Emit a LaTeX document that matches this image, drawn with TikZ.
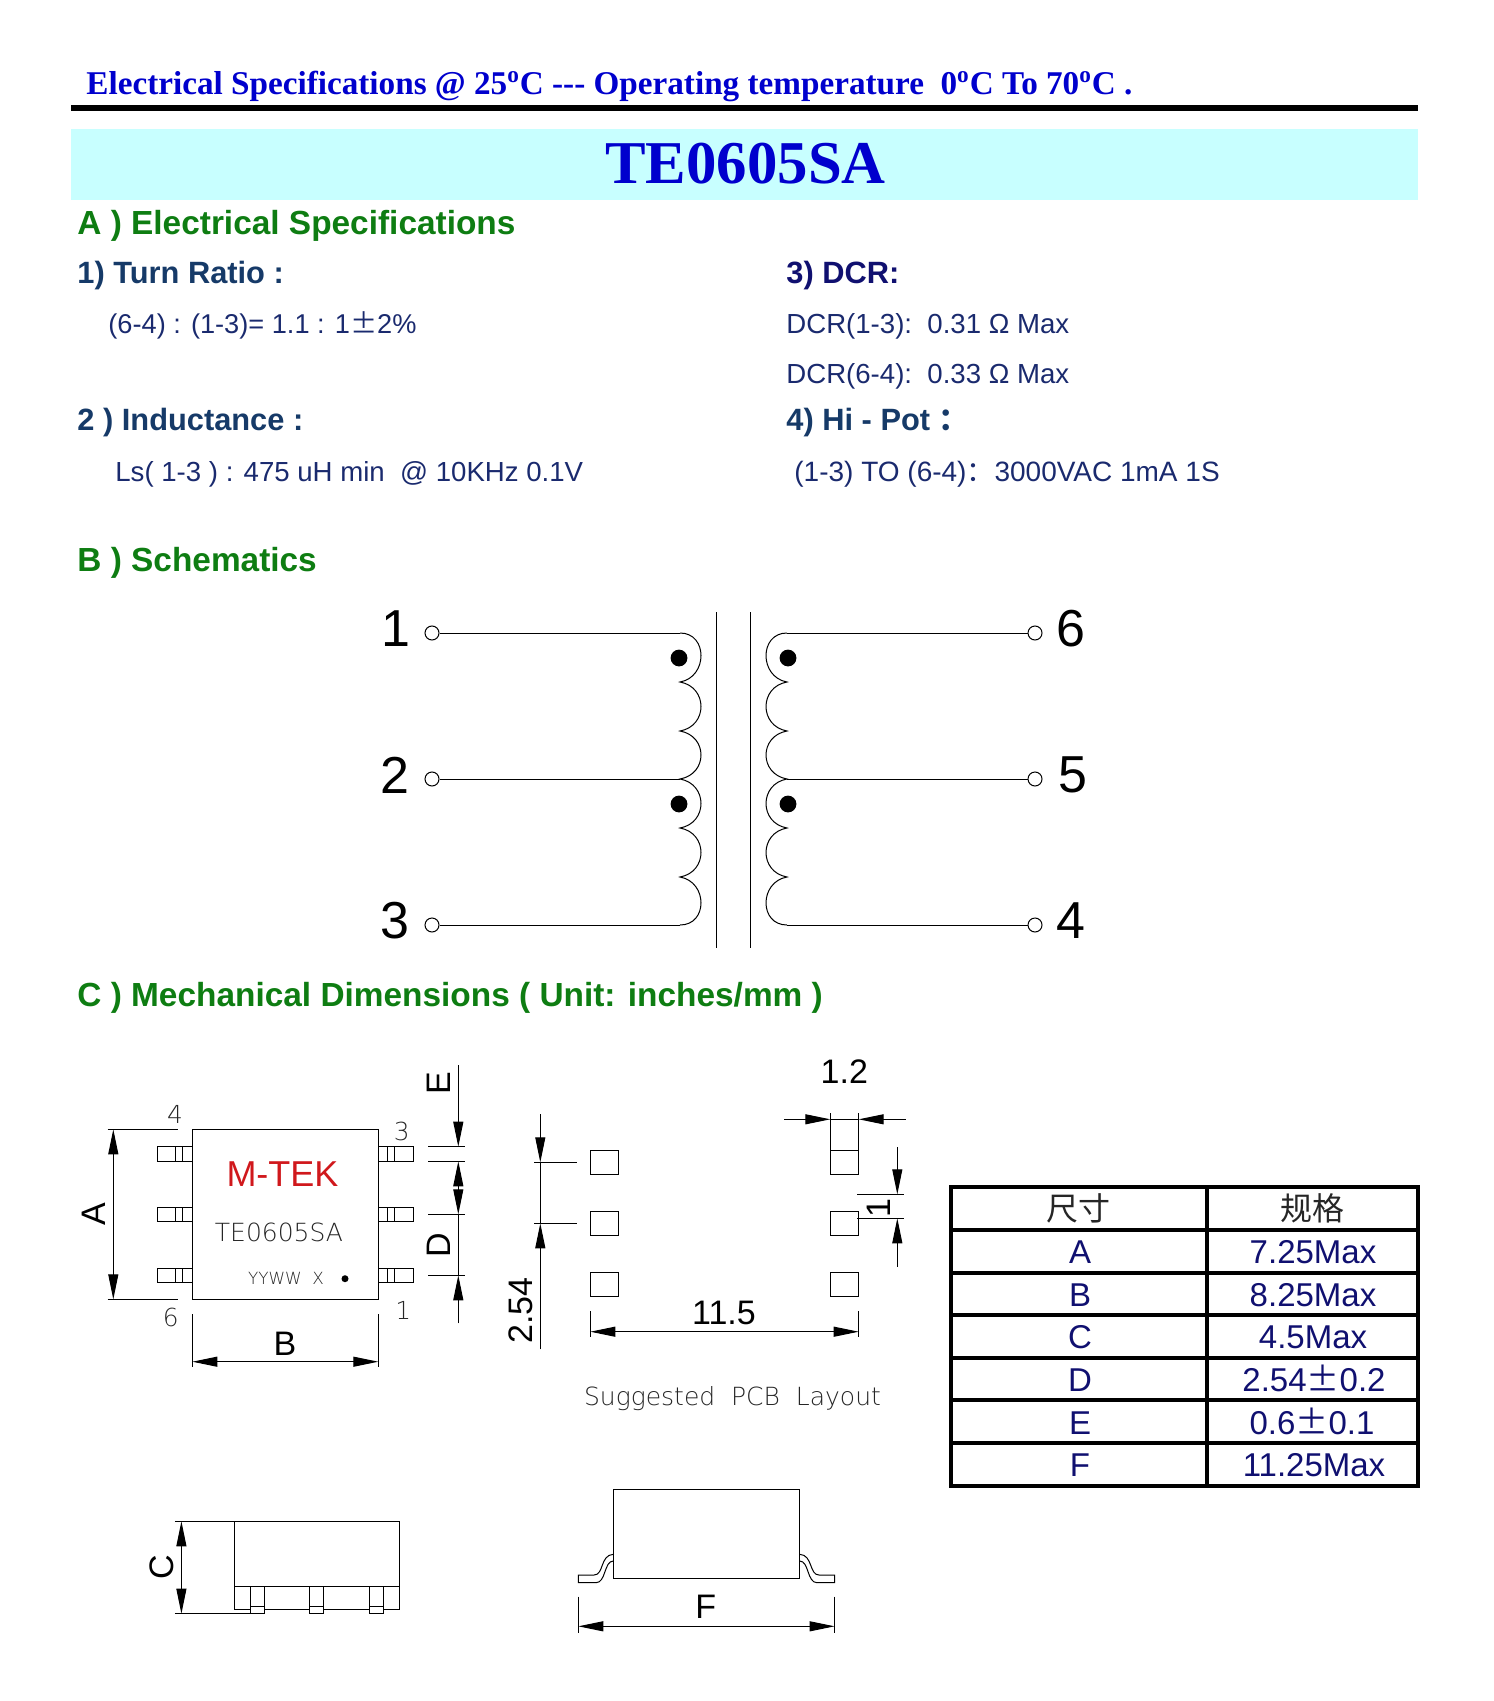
\documentclass[tikz,border=0pt]{standalone}
\usepackage{fontspec}
\setmainfont{Liberation Sans}
\newfontfamily\titlefont{Liberation Serif}
\newfontfamily\cjk{Noto Sans CJK SC}
\newfontfamily\cadfont{DejaVu Sans ExtraLight}
\usetikzlibrary{arrows.meta,positioning}
\definecolor{headblue}{RGB}{0,0,205}
\definecolor{bandcyan}{RGB}{200,255,255}
\definecolor{secgreen}{RGB}{14,125,18}
\definecolor{subnavy}{RGB}{22,58,104}
\definecolor{bodynavy}{RGB}{26,42,110}
\definecolor{cellnavy}{RGB}{16,16,112}
\definecolor{logored}{RGB}{208,24,28}
\tikzset{
	txt/.style={anchor=base west,inner sep=0pt},
	secthead/.style={txt,text=secgreen,font=\bfseries\fontsize{16.7}{19}\selectfont},
	subhead/.style={txt,text=subnavy,font=\bfseries\fontsize{15.4}{18}\selectfont},
	bodytext/.style={txt,text=bodynavy,font=\fontsize{13.8}{16}\selectfont},
	thinline/.style={line width=0.5pt},
	bodyline/.style={line width=0.7pt},
	dimtip/.style={thinline,-{Triangle[length=12.5pt,width=5pt]}},
	dimtiptwo/.style={thinline,{Triangle[length=12.5pt,width=5pt]}-{Triangle[length=12.5pt,width=5pt]}},
	terminal/.style={circle,draw,thinline,fill=white,minimum size=7pt,inner sep=0pt},
	pinnum/.style={inner sep=0pt,font=\fontsize{26}{30}\selectfont},
	dimlabel/.style={inner sep=0pt,font=\fontsize{17}{20}\selectfont},
	cadtext/.style={inner sep=0pt,text=black!85,font=\cadfont\fontsize{12.5}{15}\selectfont},
	cadnum/.style={inner sep=0pt,text=black!85,font=\cadfont\fontsize{12.4}{15}\selectfont},
	cell/.style={inner sep=0pt,text=cellnavy,font=\fontsize{16.5}{19}\selectfont},
	tablerule/.style={line width=1.9pt},
	phasedot/.style={circle,fill=black,minimum size=8.4pt,inner sep=0pt}
}
\begin{document}
\begin{tikzpicture}[x=0.5pt,y=-0.5pt]
	\useasboundingbox (0,0) rectangle (1493,1701);
	% header
	\node (head) at (86,95)[txt,text=headblue,font=\titlefont\bfseries\fontsize{16.6}{19}\selectfont] {Electrical Specifications @ 25\textsuperscript{o}C --- Operating temperature\ \ 0\textsuperscript{o}C To 70\textsuperscript{o}C .};
	\fill (71,105.5) rectangle (1418,111);
	\fill[bandcyan] (71,129) rectangle (1418,200);
	\node (partno) at (745.5,184)[anchor=base,inner sep=0pt,text=headblue,font=\titlefont\bfseries\fontsize{30.4}{36}\selectfont] {TE0605SA};
	% section A
	\node (secta) at (77,235)[secthead] {A ) Electrical Specifications};
	\node (turn) at (77,284)[subhead] {1) Turn Ratio :};
	\node (turnval) at (108,334)[bodytext,font=\fontsize{13.6}{16}\selectfont] {(6-4) : (1-3)= 1.1 : 1{\cjk ±}2\%};
	\node (induct) at (77,430)[subhead] {2 ) Inductance :};
	\node (inductval) at (115,481)[bodytext] {Ls( 1-3 ) : 475 uH min\ \ @ 10KHz 0.1V};
	\node (dcr) at (786,284)[subhead,text=cellnavy] {3) DCR:};
	\node (dcrone) at (786,334)[bodytext] {DCR(1-3):\ \ 0.31 Ω Max};
	\node (dcrtwo) at (786,383)[bodytext] {DCR(6-4):\ \ 0.33 Ω Max};
	\node (hipot) at (786,430)[subhead] {4) Hi - Pot {\cjk ：}};
	\node (hipotval) at (794,481)[bodytext,font=\fontsize{14}{16}\selectfont] {(1-3) TO (6-4){\cjk ：}3000VAC 1mA 1S};
	% section B
	\node (sectb) at (77,571)[secthead] {B ) Schematics};
	\node (tone) at (432,633)[terminal] {};
	\node (ttwo) at (432,779)[terminal] {};
	\node (tthree) at (432,925)[terminal] {};
	\node (tsix) at (1035,633)[terminal] {};
	\node (tfive) at (1035,779)[terminal] {};
	\node (tfour) at (1035,925)[terminal] {};
	\node (lone) at (396,629)[pinnum] {1};
	\node (ltwo) at (395,775)[pinnum] {2};
	\node (lthree) at (395,921)[pinnum] {3};
	\node (lsix) at (1071,629)[pinnum] {6};
	\node (lfive) at (1073,775)[pinnum] {5};
	\node (lfour) at (1071,921)[pinnum] {4};
	\coordinate (pa) at (680,633);
	\coordinate (pb) at (680,779);
	\coordinate (pc) at (680,925);
	\coordinate (sa) at (787,633);
	\coordinate (sb) at (787,779);
	\coordinate (sc) at (787,925);
	\draw[thinline] (tone)--(pa);
	\draw[thinline] (ttwo)--(pb);
	\draw[thinline] (tthree)--(pc);
	\draw[thinline] (tsix)--(sa);
	\draw[thinline] (tfive)--(sb);
	\draw[thinline] (tfour)--(sc);
	\draw[thinline] (pa) .. controls (708,633) and (708,677) .. (680,682) .. controls (708,687) and (708,726) .. (680,731) .. controls (708,736) and (708,774) .. (pb) .. controls (708,784) and (708,823) .. (680,828) .. controls (708,833) and (708,872) .. (680,877) .. controls (708,882) and (708,925) .. (pc);
	\draw[thinline] (sa) .. controls (759,633) and (759,677) .. (787,682) .. controls (759,687) and (759,726) .. (787,731) .. controls (759,736) and (759,774) .. (sb) .. controls (759,784) and (759,823) .. (787,828) .. controls (759,833) and (759,872) .. (787,877) .. controls (759,882) and (759,925) .. (sc);
	\draw[thinline] (716,612)--(716,948);
	\draw[thinline] (750,612)--(750,948);
	\node (dota) at (679,658)[phasedot] {};
	\node (dotb) at (679,804)[phasedot] {};
	\node (dotc) at (788,658)[phasedot] {};
	\node (dotd) at (788,804)[phasedot] {};
	% section C
	\node (sectc) at (77,1006)[secthead] {C ) Mechanical Dimensions ( Unit: inches/mm )};
	% top view
	\draw[bodyline] (192.3,1129.3) rectangle (378.3,1299.3);
	\draw[thinline] (157.3,1146.7) rectangle (192.3,1161.3) (175,1146.7)--(175,1161.3) (182.7,1146.7)--(182.7,1161.3);
	\draw[thinline] (157.3,1207.3) rectangle (192.3,1221.3) (175,1207.3)--(175,1221.3) (182.7,1207.3)--(182.7,1221.3);
	\draw[thinline] (157.3,1268.3) rectangle (192.3,1282.3) (175,1268.3)--(175,1282.3) (182.7,1268.3)--(182.7,1282.3);
	\draw[thinline] (378.3,1146.7) rectangle (413.3,1161.3) (387.3,1146.7)--(387.3,1161.3) (394.7,1146.7)--(394.7,1161.3);
	\draw[thinline] (378.3,1207.3) rectangle (413.3,1221.3) (387.3,1207.3)--(387.3,1221.3) (394.7,1207.3)--(394.7,1221.3);
	\draw[thinline] (378.3,1268.3) rectangle (413.3,1282.3) (387.3,1268.3)--(387.3,1282.3) (394.7,1268.3)--(394.7,1282.3);
	\node (nfour) at (175,1114)[cadnum] {4};
	\node (nthree) at (401.7,1131.7)[cadnum] {3};
	\node (nsix) at (170.7,1317.3)[cadnum] {6};
	\node (nunit) at (403.3,1310)[cadnum] {1};
	\node (logo) at (282.5,1186.7)[anchor=base,inner sep=0pt,text=logored,font=\fontsize{18}{21}\selectfont] {M-TEK};
	\node (mark) at (279,1241)[anchor=base,cadtext] {TE0605SA};
	\node (date) at (286,1284)[anchor=base,cadtext,font=\cadfont\fontsize{8.4}{11}\selectfont] {YYWW\ \ X};
	\fill (345,1278.7) circle (3.5);
	% dimensions of the top view
	\draw[thinline] (107.7,1129.3)--(177.7,1129.3) (107.7,1299.3)--(177.7,1299.3);
	\draw[dimtiptwo] (113.3,1129.3)--(113.3,1299.3);
	\node (dima) at (94,1214.3)[dimlabel,rotate=90] {A};
	\draw[thinline] (192.3,1314)--(192.3,1367) (378.3,1314)--(378.3,1367);
	\draw[dimtiptwo] (192.3,1361.7)--(378.3,1361.7);
	\node (dimb) at (285,1343.7)[dimlabel] {B};
	\draw[thinline] (428,1146.7)--(465,1146.7) (428,1161.3)--(465,1161.3) (428,1214.3)--(465,1214.3) (428,1275.3)--(465,1275.3);
	\draw[dimtip] (458.3,1065)--(458.3,1146.7);
	\draw[dimtip] (458.3,1187)--(458.3,1161.3);
	\draw[dimtip] (458.3,1187)--(458.3,1214.3);
	\draw[dimtip] (458.3,1323.3)--(458.3,1275.3);
	\draw[thinline] (458.3,1214.3)--(458.3,1275.3);
	\node (dime) at (439,1082.7)[dimlabel,rotate=90] {E};
	\node (dimd) at (439,1245.7)[dimlabel,rotate=90] {D};
	% suggested layout
	\draw[thinline] (590.3,1150.3) rectangle (618.7,1174.3);
	\draw[thinline] (590.3,1211.3) rectangle (618.7,1235.3);
	\draw[thinline] (590.3,1272.3) rectangle (618.7,1296.3);
	\draw[thinline] (830.3,1150.3) rectangle (858.7,1174.3);
	\draw[thinline] (830.3,1211.3) rectangle (858.7,1235.3);
	\draw[thinline] (830.3,1272.3) rectangle (858.7,1296.3);
	\draw[thinline] (534.3,1162.3)--(576.7,1162.3) (534.3,1223.3)--(576.7,1223.3);
	\draw[dimtip] (540.3,1114)--(540.3,1162.3);
	\draw[dimtip] (540.3,1349.3)--(540.3,1223.3);
	\draw[thinline] (540.3,1162.3)--(540.3,1223.3);
	\node (dimpitch) at (521,1310.7)[dimlabel,rotate=90] {2.54};
	\draw[thinline] (830.3,1113.3)--(830.3,1150.3) (858.7,1113.3)--(858.7,1150.3);
	\draw[dimtip] (784,1119.3)--(830.3,1119.3);
	\draw[dimtip] (905.7,1119.3)--(858.7,1119.3);
	\draw[thinline] (830.3,1119.3)--(858.7,1119.3);
	\node (dimwidth) at (844.3,1071.5)[dimlabel] {1.2};
	\draw[thinline] (857.3,1194.3)--(904,1194.3) (857.3,1218.3)--(904,1218.3);
	\draw[dimtip] (897.3,1147.3)--(897.3,1194.3);
	\draw[dimtip] (897.3,1266.7)--(897.3,1218.3);
	\node (dimpad) at (878.3,1207.7)[dimlabel,rotate=90] {1};
	\draw[thinline] (590.3,1311)--(590.3,1337.3) (858.7,1311)--(858.7,1337.3);
	\draw[dimtiptwo] (590.3,1331.7)--(858.7,1331.7);
	\node (dimspan) at (724,1312.5)[dimlabel] {11.5};
	\node (pcbnote) at (732.5,1405)[anchor=base,cadtext] {Suggested\ \ PCB\ \ Layout};
	% table
	\draw[tablerule] (950.7,1187) rectangle (1417.7,1485.7);
	\draw[tablerule] (1207,1187)--(1207,1485.7);
	\draw[tablerule] (950.7,1230)--(1417.7,1230);
	\draw[tablerule] (950.7,1272.7)--(1417.7,1272.7);
	\draw[tablerule] (950.7,1315)--(1417.7,1315);
	\draw[tablerule] (950.7,1357.7)--(1417.7,1357.7);
	\draw[tablerule] (950.7,1400)--(1417.7,1400);
	\draw[tablerule] (950.7,1442.7)--(1417.7,1442.7);
	\node (size) at (1078,1208.5)[cell,font=\cjk\fontsize{16}{19}\selectfont,text=black!85] {尺寸};
	\node (spec) at (1312,1208.5)[cell,font=\cjk\fontsize{16}{19}\selectfont,text=black!85] {规格};
	\node (ca) at (1080,1263.5)[cell,anchor=base] {A};
	\node (va) at (1313,1263.5)[cell,anchor=base] {7.25Max};
	\node (cb) at (1080,1306.5)[cell,anchor=base] {B};
	\node (vb) at (1313,1306.5)[cell,anchor=base] {8.25Max};
	\node (cc) at (1080,1348.5)[cell,anchor=base] {C};
	\node (vc) at (1313,1348.5)[cell,anchor=base] {4.5Max};
	\node (cd) at (1080,1391.5)[cell,anchor=base] {D};
	\node (vd) at (1314,1391.5)[cell,anchor=base] {2.54{\cjk ±}0.2};
	\node (ce) at (1080,1434.5)[cell,anchor=base] {E};
	\node (ve) at (1312,1434.5)[cell,anchor=base] {0.6{\cjk ±}0.1};
	\node (cf) at (1080,1476.5)[cell,anchor=base] {F};
	\node (vf) at (1314,1476.5)[cell,anchor=base] {11.25Max};
	% side view
	\draw[bodyline] (234.3,1521.3) rectangle (399.5,1609.7);
	\draw[thinline] (234.3,1586.3)--(399.5,1586.3);
	\draw[thinline,fill=white] (250.3,1586.3) rectangle (264.5,1613.7) (250.3,1606.3)--(264.5,1606.3);
	\draw[thinline,fill=white] (309.3,1586.3) rectangle (323.5,1613.7) (309.3,1606.3)--(323.5,1606.3);
	\draw[thinline,fill=white] (369.3,1586.3) rectangle (383.4,1613.7) (369.3,1606.3)--(383.4,1606.3);
	\draw[thinline] (174.8,1521.3)--(234.3,1521.3) (174.8,1613.7)--(250.3,1613.7);
	\draw[dimtiptwo] (181.4,1521.3)--(181.4,1613.7);
	\node (dimc) at (162,1567.7)[dimlabel,rotate=90] {C};
	% front view
	\draw[bodyline] (613.3,1489.3) rectangle (799.7,1578.3);
	\draw[thinline] (613.3,1554.3) .. controls (600,1555) and (604,1575) .. (594,1575)--(578.3,1575)--(578.3,1582.7)--(596,1582.7) .. controls (606,1582.7) and (604,1561) .. (613.3,1561);
	\draw[thinline] (799.7,1554.3) .. controls (813,1555) and (809,1575) .. (819,1575)--(834.6,1575)--(834.6,1582.7)--(817,1582.7) .. controls (807,1582.7) and (809,1561) .. (799.7,1561);
	\draw[thinline] (578.3,1596.7)--(578.3,1633.3) (834.6,1596.7)--(834.6,1633.3);
	\draw[dimtiptwo] (578.3,1626.3)--(834.6,1626.3);
	\node (dimf) at (705.7,1607)[dimlabel] {F};
\end{tikzpicture}
\end{document}
